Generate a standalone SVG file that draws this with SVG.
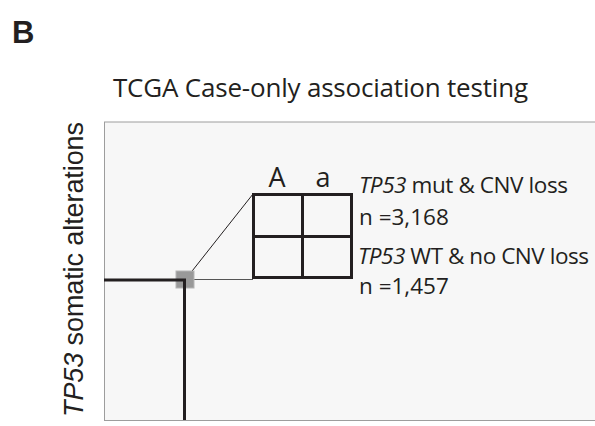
<svg xmlns="http://www.w3.org/2000/svg" width="595" height="426" viewBox="0 0 595 426">
<style>
.os{font-family:"Open Sans","Liberation Sans",sans-serif;fill:#231f20}
.ar{font-family:"Liberation Sans",Arial,sans-serif;fill:#231f20}
.thick{stroke:#231f20;stroke-width:3;fill:none}
.lbl{font-size:22.5px}
</style>
<rect width="595" height="426" fill="#ffffff"/>
<text class="ar" x="12" y="43" font-size="31" font-weight="bold">B</text>
<text class="os" x="113" y="97" font-size="26" textLength="415">TCGA Case-only association testing</text>
<text class="ar" transform="translate(83,417) rotate(-90)" font-size="27" textLength="295"><tspan font-style="italic">TP53</tspan> somatic alterations</text>
<g id="panel">
<rect x="104.5" y="122" width="500" height="298.5" fill="#f7f7f7" stroke="#9d9d9d" stroke-width="1"/>
</g>
<g id="connectors">
<line x1="185" y1="280" x2="253" y2="194" stroke="#231f20" stroke-width="1"/>
<line x1="185" y1="279.5" x2="253" y2="279.5" stroke="#555" stroke-width="1"/>
</g>
<g id="locus">
<rect x="176" y="271" width="18" height="17" fill="#999" stroke="#b5b5b5" stroke-width="1"/>
<line class="thick" x1="104" y1="280" x2="186" y2="280"/>
<line class="thick" x1="184.5" y1="280" x2="184.5" y2="420"/>
</g>
<g id="table">
<rect class="thick" x="253.5" y="194.5" width="98" height="83"/>
<line class="thick" x1="302.5" y1="194.5" x2="302.5" y2="279"/>
<line class="thick" x1="253.5" y1="236.5" x2="351.5" y2="236.5"/>
<text class="os" x="277" y="187" font-size="27" text-anchor="middle">A</text>
<text class="os" x="323" y="187" font-size="27" text-anchor="middle">a</text>
</g>
<g id="labels">
<text class="os lbl" x="359" y="193" textLength="209"><tspan font-style="italic">TP53</tspan> mut &amp; CNV loss</text>
<text class="os lbl" x="359" y="225">n =3,168</text>
<text class="os lbl" x="358" y="264" textLength="231"><tspan font-style="italic">TP53</tspan> WT &amp; no CNV loss</text>
<text class="os lbl" x="359" y="294">n =1,457</text>
</g>
</svg>
